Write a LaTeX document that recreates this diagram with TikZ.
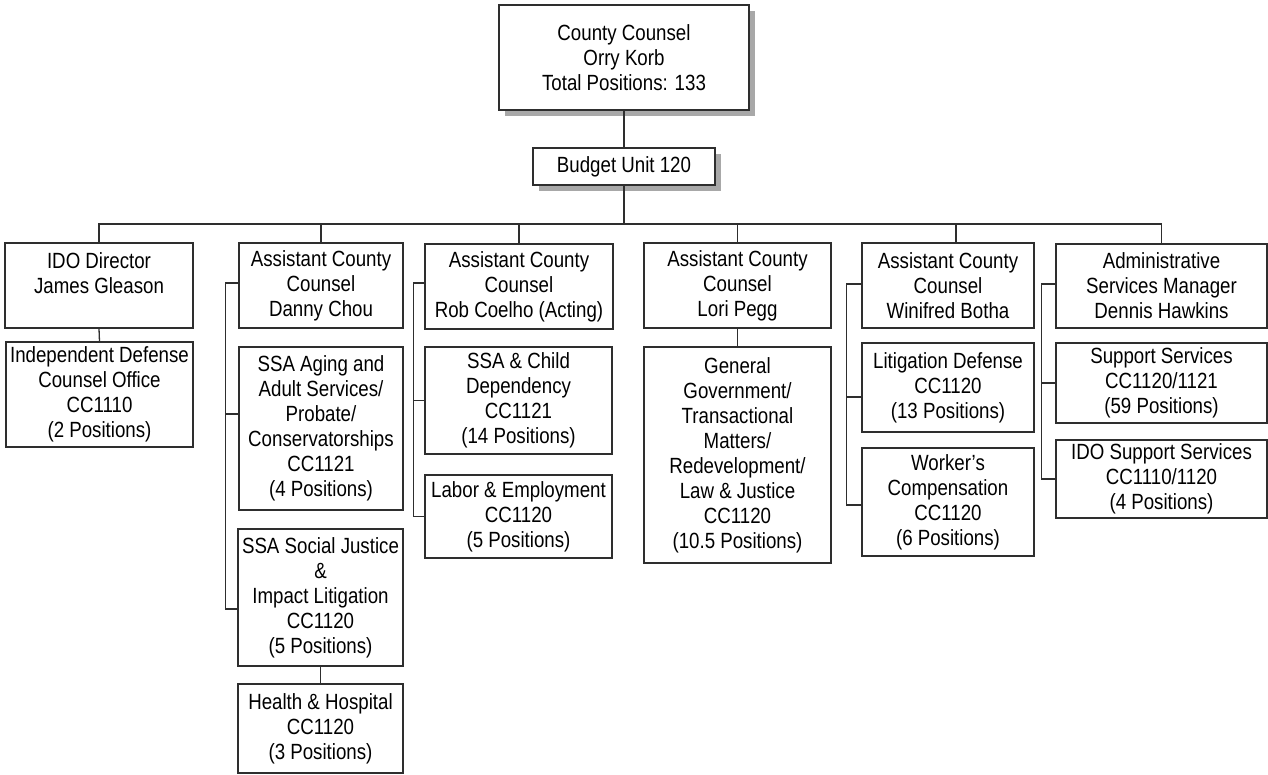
\documentclass[tikz,border=0pt]{standalone}
\usepackage{fontspec}
\setmainfont[FakeStretch=0.85]{Liberation Sans}
\usetikzlibrary{shadows}

\definecolor{linegray}{HTML}{2E2E2E}
\definecolor{shadowgray}{HTML}{A8A8A8}

\tikzset{
  box/.style={draw=linegray, line width=1.2pt, fill=white, align=center,
              inner sep=0pt, text=black, font=\fontsize{22}{25}\selectfont},
  shadowed/.style={drop shadow={shadow xshift=6pt, shadow yshift=-6pt,
              fill=shadowgray, opacity=1}},
  link/.style={draw=linegray, line width=1.3pt}
}

% \orgbox[style]{name}{left}{top}{right}{bottom}{text}
\newcommand\orgbox[7][]{%
  \node[box, #1, minimum width={(#5-#3)*1pt}, minimum height={(#6-#4)*1pt}]
    (#2) at ({(#3+#5)/2}, {(#4+#6)/2}) {#7};}

\begin{document}
\begin{tikzpicture}[x=1pt, y=-1pt]
\useasboundingbox (0,0) rectangle (1268,775);

% top of the chart
\orgbox[shadowed]{cc}{499}{5}{749}{110}{County Counsel\\Orry Korb\\Total Positions: 133}
\orgbox[shadowed]{bu}{533}{148}{715}{185}{Budget Unit 120}

% second level
\orgbox{ido}{5}{243}{193}{328}{IDO Director\\James Gleason\\\mbox{}}
\orgbox{chou}{239}{243}{403}{328}{Assistant County\\Counsel\\Danny Chou}
\orgbox{coelho}{425}{244}{613}{329}{Assistant County\\Counsel\\Rob Coelho (Acting)}
\orgbox{pegg}{644}{243}{831}{328}{Assistant County\\Counsel\\Lori Pegg}
\orgbox{botha}{862}{243}{1034}{328}{Assistant County\\Counsel\\Winifred Botha}
\orgbox{hawkins}{1056}{244}{1267}{328}{Administrative\\Services Manager\\Dennis Hawkins}

% units
\orgbox{idco}{6}{342}{193}{447}{Independent Defense\\Counsel Office\\CC1110\\(2 Positions)}
\orgbox{aging}{239}{347}{403}{510}{SSA Aging and\\Adult Services/\\Probate/\\Conservatorships\\CC1121\\(4 Positions)}
\orgbox{social}{238}{529}{403}{666}{SSA Social Justice\\\&\\Impact Litigation\\CC1120\\(5 Positions)}
\orgbox{health}{238}{684}{403}{773}{Health \& Hospital\\CC1120\\(3 Positions)}
\orgbox{child}{425}{347}{612}{454}{SSA \& Child\\Dependency\\CC1121\\(14 Positions)}
\orgbox{labor}{425}{475}{612}{558}{Labor \& Employment\\CC1120\\(5 Positions)}
\orgbox{general}{644}{347}{831}{563}{General\\Government/\\Transactional\\Matters/\\Redevelopment/\\Law \& Justice\\CC1120\\(10.5 Positions)}
\orgbox{litig}{862}{343}{1034}{432}{Litigation Defense\\CC1120\\(13 Positions)}
\orgbox{workers}{862}{448}{1034}{556}{Worker’s\\Compensation\\CC1120\\(6 Positions)}
\orgbox{support}{1056}{343}{1267}{423}{Support Services\\CC1120/1121\\(59 Positions)}
\orgbox{idosup}{1056}{440}{1267}{518}{IDO Support Services\\CC1110/1120\\(4 Positions)}

% trunk and bus
\coordinate (busline) at (0,224);
\coordinate (bus) at (bu.south |- busline);
\draw[link] (cc.south) -- (bu.north);
\draw[link] (bu.south) -- (bus);
\draw[link] (bus) -| (ido.north);
\draw[link] (bus) -| (chou.north);
\draw[link] (bus) -| (coelho.north);
\draw[link] (bus) -| (pegg.north);
\draw[link] (bus) -| ([xshift=8pt]botha.north);
\draw[link] (bus) -| (hawkins.north);

% single descendants
\draw[link] (ido.south) -- (idco.north);
\draw[link] (pegg.south) -- (general.north);
\draw[link] (social.south) -- (health.north);

% side brackets
\draw[link] ([yshift=2.5pt]chou.west) -| ([xshift=-12pt, yshift=-11.5pt]social.west) -- ([yshift=-11.5pt]social.west);
\draw[link] ([xshift=-12pt, yshift=14.5pt]aging.west) -- ([yshift=14.5pt]aging.west);

\draw[link] ([yshift=3.5pt]coelho.west) -| ([xshift=-11pt]labor.west) -- (labor.west);
\draw[link] ([xshift=-11pt]child.west) -- (child.west);

\draw[link] ([yshift=1.5pt]botha.west) -| ([xshift=-15pt, yshift=-3pt]workers.west) -- ([yshift=-3pt]workers.west);
\draw[link] ([xshift=-15pt, yshift=-9.5pt]litig.west) -- ([yshift=-9.5pt]litig.west);

\draw[link] ([yshift=2pt]hawkins.west) -| ([xshift=-14pt]idosup.west) -- (idosup.west);
\draw[link] ([xshift=-14pt]support.west) -- (support.west);
\end{tikzpicture}
\end{document}
